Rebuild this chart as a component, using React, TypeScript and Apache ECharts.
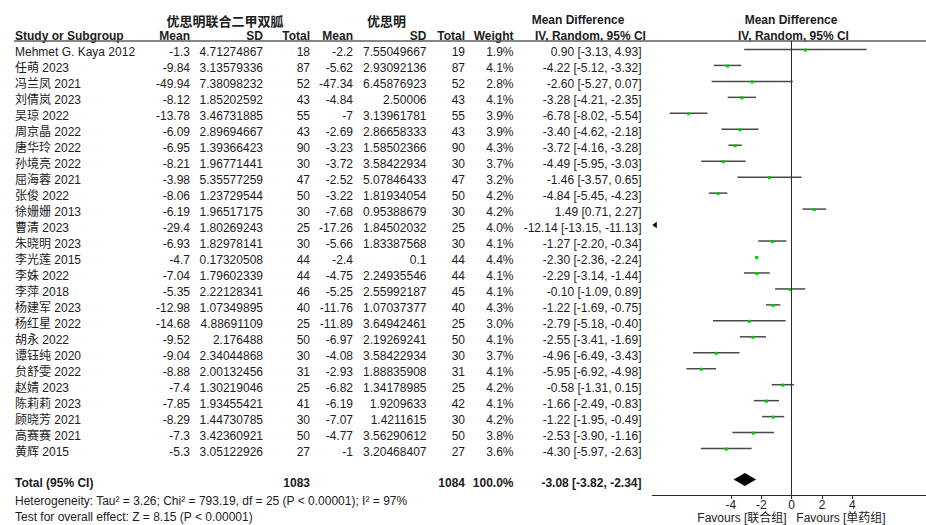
import React, { useEffect, useRef } from "react";
import * as echarts from "echarts";

// Study rows
const studies = [
  "Mehmet G. Kaya 2012", "任萌 2023", "冯兰凤 2021", "刘倩岚 2023", "吴琼 2022",
  "周京晶 2022", "唐华玲 2022", "孙境亮 2022", "屈海蓉 2021", "张俊 2022",
  "徐姗姗 2013", "曹清 2023", "朱晓明 2023", "李光莲 2015", "李姝 2022",
  "李萍 2018", "杨建军 2023", "杨红星 2022", "胡永 2022", "谭钰纯 2020",
  "贠舒雯 2022", "赵婧 2023", "陈莉莉 2023", "顾晓芳 2021", "高赛赛 2021",
  "黄辉 2015",
];

// 优思明联合二甲双胍 arm
const expMean = ["-1.3", "-9.84", "-49.94", "-8.12", "-13.78", "-6.09", "-6.95", "-8.21", "-3.98", "-8.06", "-6.19", "-29.4", "-6.93", "-4.7", "-7.04", "-5.35", "-12.98", "-14.68", "-9.52", "-9.04", "-8.88", "-7.4", "-7.85", "-8.29", "-7.3", "-5.3"];
const expSD = ["4.71274867", "3.13579336", "7.38098232", "1.85202592", "3.46731885", "2.89694667", "1.39366423", "1.96771441", "5.35577259", "1.23729544", "1.96517175", "1.80269243", "1.82978141", "0.17320508", "1.79602339", "2.22128341", "1.07349895", "4.88691109", "2.176488", "2.34044868", "2.00132456", "1.30219046", "1.93455421", "1.44730785", "3.42360921", "3.05122926"];
const expN = [18, 87, 52, 43, 55, 43, 90, 30, 47, 50, 30, 25, 30, 44, 44, 46, 40, 25, 50, 30, 31, 25, 41, 30, 50, 27];

// 优思明 arm
const ctrlMean = ["-2.2", "-5.62", "-47.34", "-4.84", "-7", "-2.69", "-3.23", "-3.72", "-2.52", "-3.22", "-7.68", "-17.26", "-5.66", "-2.4", "-4.75", "-5.25", "-11.76", "-11.89", "-6.97", "-4.08", "-2.93", "-6.82", "-6.19", "-7.07", "-4.77", "-1"];
const ctrlSD = ["7.55049667", "2.93092136", "6.45876923", "2.50006", "3.13961781", "2.86658333", "1.58502366", "3.58422934", "5.07846433", "1.81934054", "0.95388679", "1.84502032", "1.83387568", "0.1", "2.24935546", "2.55992187", "1.07037377", "3.64942461", "2.19269241", "3.58422934", "1.88835908", "1.34178985", "1.9209633", "1.4211615", "3.56290612", "3.20468407"];
const ctrlN = [19, 87, 52, 43, 55, 43, 90, 30, 47, 50, 30, 25, 30, 44, 44, 45, 40, 25, 50, 30, 31, 25, 42, 30, 50, 27];

const weights = ["1.9%", "4.1%", "2.8%", "4.1%", "3.9%", "3.9%", "4.3%", "3.7%", "3.2%", "4.2%", "4.2%", "4.0%", "4.1%", "4.4%", "4.1%", "4.1%", "4.3%", "3.0%", "4.1%", "3.7%", "4.1%", "4.2%", "4.1%", "4.2%", "3.8%", "3.6%"];

// Mean difference with 95% CI
const md = [0.9, -4.22, -2.6, -3.28, -6.78, -3.4, -3.72, -4.49, -1.46, -4.84, 1.49, -12.14, -1.27, -2.3, -2.29, -0.1, -1.22, -2.79, -2.55, -4.96, -5.95, -0.58, -1.66, -1.22, -2.53, -4.3];
const ciLow = [-3.13, -5.12, -5.27, -4.21, -8.02, -4.62, -4.16, -5.95, -3.57, -5.45, 0.71, -13.15, -2.2, -2.36, -3.14, -1.09, -1.69, -5.18, -3.41, -6.49, -6.92, -1.31, -2.49, -1.95, -3.9, -5.97];
const ciHigh = [4.93, -3.32, 0.07, -2.35, -5.54, -2.18, -3.28, -3.03, 0.65, -4.23, 2.27, -11.13, -0.34, -2.24, -1.44, 0.89, -0.75, -0.4, -1.69, -3.43, -4.98, 0.15, -0.83, -0.49, -1.16, -2.63];

// Pooled estimate
const totalExpN = 1083;
const totalCtrlN = 1084;
const totalWeight = "100.0%";
const pooled = { md: -3.08, lo: -3.82, hi: -2.34 };
const totalRow = 27;

const axisTicks = [-4, -2, 0, 2, 4];
const X_MIN = -9.17;
const X_MAX = 8.84;

const FONT = '"Liberation Sans", Arial, "Noto Sans CJK SC", sans-serif';
const TXT = "#1c1c1c";

const fmt = (v: number) => v.toFixed(2);
const ciText = (m: number, l: number, h: number) => `${fmt(m)} [${fmt(l)}, ${fmt(h)}]`;

// right edges of the table columns
const COLS = {
  study: 15,
  expMean: 190,
  expSD: 263,
  expN: 310,
  ctrlMean: 353,
  ctrlSD: 426.5,
  ctrlN: 465,
  weight: 513.5,
  ci: 641.5,
};

function txt(text: string, x: number, y: number, align: string, bold = false, size = 12, family = FONT) {
  return {
    type: "text",
    x,
    y,
    silent: true,
    style: {
      text,
      align,
      verticalAlign: "middle",
      fontSize: size,
      fontWeight: bold ? "bold" : "normal",
      fontFamily: family,
      fill: TXT,
    },
  };
}

export default function App() {
  const ref = useRef<HTMLDivElement>(null);

  useEffect(() => {
    if (!ref.current) return;
    const chart = echarts.init(ref.current, undefined, { renderer: "svg" });

    const forestData = md.map((m, i) => [m, i, ciLow[i], ciHigh[i]]);
    const tableData = studies.map((_, i) => [0, i]);

    const option = {
      animation: false,
      grid: { left: 652.3, right: 0, top: 41, height: 454 },
      xAxis: {
        type: "value",
        min: X_MIN,
        max: X_MAX,
        splitLine: { show: false },
        axisLine: { show: true, onZero: false, lineStyle: { color: "#2a2a2a", width: 1 } },
        axisTick: { show: true, customValues: axisTicks, length: 4, lineStyle: { color: "#2a2a2a" } },
        axisLabel: {
          show: true,
          customValues: axisTicks,
          margin: 4,
          fontSize: 12,
          fontFamily: FONT,
          color: TXT,
        },
      },
      yAxis: {
        type: "value",
        inverse: true,
        min: -0.53,
        max: 27.91,
        show: false,
      },
      graphic: [
        // group headers
        txt("优思明联合二甲双胍", 225, 20, "center", true, 13, '"Noto Sans CJK SC", sans-serif'),
        txt("优思明", 386.5, 20, "center", true, 13, '"Noto Sans CJK SC", sans-serif'),
        txt("Mean Difference", 578, 20, "center", true),
        txt("Mean Difference", 791, 20, "center", true),
        // column headers
        txt("Study or Subgroup", COLS.study, 36, "left", true),
        txt("Mean", COLS.expMean, 36, "right", true),
        txt("SD", COLS.expSD, 36, "right", true),
        txt("Total", COLS.expN, 36, "right", true),
        txt("Mean", COLS.ctrlMean, 36, "right", true),
        txt("SD", COLS.ctrlSD, 36, "right", true),
        txt("Total", COLS.ctrlN, 36, "right", true),
        txt("Weight", COLS.weight, 36, "right", true),
        txt("IV, Random, 95% CI", 535, 36, "left", true),
        txt("IV, Random, 95% CI", 793.5, 36, "center", true),
        {
          type: "line",
          silent: true,
          shape: { x1: 14, y1: 41, x2: 926, y2: 41 },
          style: { stroke: "#5e5e5e", lineWidth: 1.6 },
        },
        // footer notes
        txt("Heterogeneity: Tau² = 3.26; Chi² = 793.19, df = 25 (P < 0.00001); I² = 97%", 15, 500.5, "left"),
        txt("Test for overall effect: Z = 8.15 (P < 0.00001)", 15, 516.5, "left"),
        txt("Favours [联合组]", 742, 517.5, "center"),
        txt("Favours [单药组]", 841, 517.5, "center"),
      ],
      series: [
        {
          // table of study statistics
          type: "custom",
          clip: false,
          silent: true,
          data: tableData,
          renderItem: (params: any, api: any) => {
            const i = params.dataIndex;
            const y = api.coord([0, api.value(1)])[1] + 3;
            return {
              type: "group",
              children: [
                txt(studies[i], COLS.study, y, "left"),
                txt(expMean[i], COLS.expMean, y, "right"),
                txt(expSD[i], COLS.expSD, y, "right"),
                txt(String(expN[i]), COLS.expN, y, "right"),
                txt(ctrlMean[i], COLS.ctrlMean, y, "right"),
                txt(ctrlSD[i], COLS.ctrlSD, y, "right"),
                txt(String(ctrlN[i]), COLS.ctrlN, y, "right"),
                txt(weights[i], COLS.weight, y, "right"),
                txt(ciText(md[i], ciLow[i], ciHigh[i]), COLS.ci, y, "right"),
              ],
            };
          },
        },
        {
          // total row text
          type: "custom",
          clip: false,
          silent: true,
          data: [[0, totalRow]],
          renderItem: (_params: any, api: any) => {
            const y = api.coord([0, api.value(1)])[1] + 3;
            return {
              type: "group",
              children: [
                txt("Total (95% CI)", COLS.study, y, "left", true),
                txt(String(totalExpN), COLS.expN, y, "right", true),
                txt(String(totalCtrlN), COLS.ctrlN, y, "right", true),
                txt(totalWeight, COLS.weight, y, "right", true),
                txt(ciText(pooled.md, pooled.lo, pooled.hi), COLS.ci, y, "right", true),
              ],
            };
          },
        },
        {
          // confidence intervals and point estimates
          type: "custom",
          clip: false,
          silent: true,
          data: forestData,
          renderItem: (_params: any, api: any) => {
            const m = api.value(0);
            const row = api.value(1);
            const lo = api.value(2);
            const hi = api.value(3);
            const y = api.coord([0, row])[1];
            if (hi < X_MIN) {
              const xe = api.coord([X_MIN, row])[0];
              return {
                type: "polygon",
                shape: { points: [[xe, y], [xe + 4.5, y - 3.2], [xe + 4.5, y + 3.2]] },
                style: { fill: "#000" },
              };
            }
            const x1 = api.coord([Math.max(lo, X_MIN), row])[0];
            const x2 = api.coord([Math.min(hi, X_MAX), row])[0];
            const xm = api.coord([m, row])[0];
            return {
              type: "group",
              children: [
                {
                  type: "line",
                  shape: { x1, y1: y, x2, y2: y },
                  style: { stroke: "#4a4a4a", lineWidth: 1.5 },
                },
                {
                  type: "rect",
                  shape: { x: xm - 1.5, y: y - 1, width: 3, height: 3 },
                  style: { fill: "#00cc00" },
                },
              ],
            };
          },
          markLine: {
            silent: true,
            symbol: "none",
            label: { show: false },
            lineStyle: { color: "#2a2a2a", width: 1, type: "solid" },
            data: [{ xAxis: 0 }],
          },
        },
        {
          // pooled diamond
          type: "custom",
          clip: false,
          silent: true,
          data: [[pooled.md, totalRow, pooled.lo, pooled.hi]],
          renderItem: (_params: any, api: any) => {
            const row = api.value(1);
            const y = api.coord([0, row])[1] - 1;
            const xm = api.coord([api.value(0), row])[0];
            const xl = api.coord([api.value(2), row])[0];
            const xr = api.coord([api.value(3), row])[0];
            return {
              type: "polygon",
              shape: { points: [[xl, y], [xm, y - 6.5], [xr, y], [xm, y + 6.5]] },
              style: { fill: "#000" },
            };
          },
        },
      ],
    };

    chart.setOption(option as any);
    return () => chart.dispose();
  }, []);

  return (
    <div
      ref={ref}
      style={{ position: "absolute", left: 0, top: 0, width: 926, height: 525, background: "#fff" }}
    />
  );
}
